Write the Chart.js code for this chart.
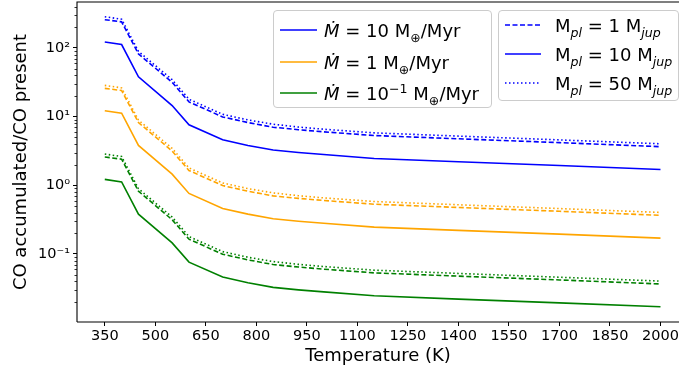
<!DOCTYPE html>
<html>
<head>
<meta charset="utf-8">
<script src="https://cdn.jsdelivr.net/npm/chart.js@4/dist/chart.umd.min.js"></script>
<style>
html,body{margin:0;padding:0;background:#fff;}
#wrap{position:relative;width:679px;height:370px;overflow:hidden;font-family:"DejaVu Sans",sans-serif;}
canvas{display:block;}
.leg{position:absolute;background:rgba(255,255,255,0.8);border:1px solid #cccccc;border-radius:4px;box-sizing:border-box;}
.row{position:absolute;height:30px;display:flex;align-items:center;white-space:nowrap;font-size:18px;color:#000;}
.row svg{display:block;flex:none;}
.row sub,.row sup{font-size:70%;line-height:0;}
</style>
</head>
<body>
<div id="wrap">
<canvas id="c" width="679" height="370"></canvas>
<div class="leg" style="left:273px;top:10px;width:219px;height:98px;">
  <div class="row" style="left:6px;top:4px;"><svg width="37" height="4"><line x1="0" y1="2" x2="37" y2="2" stroke="#0000ff" stroke-width="1.6"/></svg><span style="margin-left:7px"><i>Ṁ</i> = 10 M<sub>⊕</sub>/Myr</span></div>
  <div class="row" style="left:6px;top:36px;"><svg width="37" height="4"><line x1="0" y1="2" x2="37" y2="2" stroke="#ffa500" stroke-width="1.6"/></svg><span style="margin-left:7px"><i>Ṁ</i> = 1 M<sub>⊕</sub>/Myr</span></div>
  <div class="row" style="left:6px;top:67px;"><svg width="37" height="4"><line x1="0" y1="2" x2="37" y2="2" stroke="#008000" stroke-width="1.6"/></svg><span style="margin-left:7px"><i>Ṁ</i> = 10<sup>−1</sup> M<sub>⊕</sub>/Myr</span></div>
</div>
<div class="leg" style="left:498px;top:10px;width:181px;height:91px;">
  <div class="row" style="left:6px;top:-1px;"><svg width="36" height="4"><line x1="0" y1="2" x2="36" y2="2" stroke="#0000ff" stroke-width="1.6" stroke-dasharray="5,2.5"/></svg><span style="margin-left:14px">M<sub><i>pl</i></sub> = 1 M<sub><i>jup</i></sub></span></div>
  <div class="row" style="left:6px;top:28px;"><svg width="36" height="4"><line x1="0" y1="2" x2="36" y2="2" stroke="#0000ff" stroke-width="1.6"/></svg><span style="margin-left:14px">M<sub><i>pl</i></sub> = 10 M<sub><i>jup</i></sub></span></div>
  <div class="row" style="left:6px;top:57px;"><svg width="36" height="4"><line x1="0" y1="2" x2="36" y2="2" stroke="#0000ff" stroke-width="1.6" stroke-dasharray="1.5,2.5"/></svg><span style="margin-left:14px">M<sub><i>pl</i></sub> = 50 M<sub><i>jup</i></sub></span></div>
</div>
</div>
<script>
// ---- data ----
const temperatures = [350, 400, 450, 550, 600, 700, 775, 850, 925, 1000, 1150, 1400, 1700, 2000];

// Mdot = 10 M_earth/Myr
const mdot10_mpl1  = [258, 240, 82, 31.5, 16.4, 9.9, 8.2, 7.0, 6.45, 6.0, 5.3, 4.75, 4.18, 3.65];
const mdot10_mpl10 = [122, 112, 38, 14.5, 7.6, 4.6, 3.8, 3.26, 3.0, 2.8, 2.46, 2.2, 1.94, 1.7];
const mdot10_mpl50 = [285, 262, 89, 34.5, 17.9, 10.8, 8.95, 7.75, 7.05, 6.55, 5.8, 5.2, 4.58, 4.02];
// Mdot = 1 M_earth/Myr
const mdot1_mpl1  = [25.8, 24.0, 8.2, 3.15, 1.64, 0.99, 0.82, 0.70, 0.645, 0.60, 0.53, 0.475, 0.418, 0.365];
const mdot1_mpl10 = [12.2, 11.2, 3.8, 1.45, 0.76, 0.46, 0.38, 0.326, 0.30, 0.28, 0.246, 0.22, 0.194, 0.17];
const mdot1_mpl50 = [28.5, 26.2, 8.9, 3.45, 1.79, 1.08, 0.895, 0.775, 0.705, 0.655, 0.58, 0.52, 0.458, 0.402];
// Mdot = 0.1 M_earth/Myr
const mdot01_mpl1  = [2.58, 2.40, 0.82, 0.315, 0.164, 0.099, 0.082, 0.070, 0.0645, 0.060, 0.053, 0.0475, 0.0418, 0.0365];
const mdot01_mpl10 = [1.22, 1.12, 0.38, 0.145, 0.076, 0.046, 0.038, 0.0326, 0.030, 0.028, 0.0246, 0.022, 0.0194, 0.017];
const mdot01_mpl50 = [2.85, 2.62, 0.89, 0.345, 0.179, 0.108, 0.0895, 0.0775, 0.0705, 0.0655, 0.058, 0.052, 0.0458, 0.0402];

const xTickValues = [350, 500, 650, 800, 950, 1100, 1250, 1400, 1550, 1700, 1850, 2000];
const yTickValues = [0.1, 1, 10, 100];
const yTickLabels = ['10⁻¹', '10⁰', '10¹', '10²'];

const colors = {blue: '#0000ff', orange: '#ffa500', green: '#008000'};
const DASH = [5, 2.5], DOT = [1.5, 2.5];

function ds(data, color, dash) {
  return {
    data: temperatures.map((t, i) => ({x: t, y: data[i]})),
    borderColor: color, backgroundColor: color, borderWidth: 1.6,
    borderDash: dash || [], pointRadius: 0, tension: 0, fill: false
  };
}

const datasets = [
  ds(mdot10_mpl10, colors.blue), ds(mdot1_mpl10, colors.orange), ds(mdot01_mpl10, colors.green),
  ds(mdot10_mpl1, colors.blue, DASH), ds(mdot1_mpl1, colors.orange, DASH), ds(mdot01_mpl1, colors.green, DASH),
  ds(mdot10_mpl50, colors.blue, DOT), ds(mdot1_mpl50, colors.orange, DOT), ds(mdot01_mpl50, colors.green, DOT)
];

const framePlugin = {
  id: 'frame',
  afterDraw(chart) {
    const {ctx, chartArea: a, scales} = chart;
    ctx.save();
    ctx.strokeStyle = '#000';
    ctx.lineWidth = 1.1;
    ctx.beginPath();
    ctx.moveTo(a.left, a.bottom); ctx.lineTo(a.left, a.top); ctx.lineTo(a.right + 5, a.top);
    ctx.moveTo(a.left, a.bottom); ctx.lineTo(a.right + 5, a.bottom);
    ctx.stroke();
    // minor ticks on the log axis
    const y = scales.y;
    ctx.lineWidth = 0.8;
    ctx.beginPath();
    for (let d = -3; d <= 3; d++) {
      for (let k = 2; k <= 9; k++) {
        const v = k * Math.pow(10, d);
        if (v < y.min || v > y.max) continue;
        const py = Math.round(y.getPixelForValue(v)) + 0.5;
        ctx.moveTo(a.left, py); ctx.lineTo(a.left - 2.5, py);
      }
    }
    ctx.stroke();
    ctx.restore();
  }
};

new Chart(document.getElementById('c'), {
  type: 'line',
  data: {datasets},
  plugins: [framePlugin],
  options: {
    responsive: false, animation: false, devicePixelRatio: 1,
    layout: {padding: {top: 2, left: 0, right: 0, bottom: 0}},
    plugins: {legend: {display: false}, tooltip: {enabled: false}},
    scales: {
      x: {
        type: 'linear', min: 267.5, max: 2055,
        afterBuildTicks: s => { s.ticks = xTickValues.map(v => ({value: v})); },
        afterFit: s => { s.height = 48; s.paddingLeft = 0; s.paddingRight = 0; },
        grid: {drawOnChartArea: false, drawTicks: true, tickLength: 4, tickColor: '#000', tickWidth: 1},
        border: {display: false},
        ticks: {color: '#000', font: {family: 'DejaVu Sans', size: 14.5}, padding: 2, maxRotation: 0, autoSkip: false,
          callback: v => String(v)},
        title: {display: true, text: 'Temperature (K)', color: '#000', font: {family: 'DejaVu Sans', size: 18}, padding: {top: 0, bottom: 3}}
      },
      y: {
        type: 'logarithmic', min: 0.0102, max: 467,
        afterBuildTicks: s => { s.ticks = yTickValues.map(v => ({value: v})); },
        afterFit: s => { s.width = 77; s.paddingTop = 0; s.paddingBottom = 0; },
        grid: {drawOnChartArea: false, drawTicks: true, tickLength: 4, tickColor: '#000', tickWidth: 1},
        border: {display: false},
        ticks: {color: '#000', font: {family: 'DejaVu Sans', size: 14.5}, padding: 3, autoSkip: false,
          callback: (v) => { const i = yTickValues.indexOf(v); return i >= 0 ? yTickLabels[i] : ''; }},
        title: {display: true, text: 'CO accumulated/CO present', color: '#000', font: {family: 'DejaVu Sans', size: 18}, padding: {top: 11, bottom: 0}}
      }
    }
  }
});
</script>
</body>
</html>
